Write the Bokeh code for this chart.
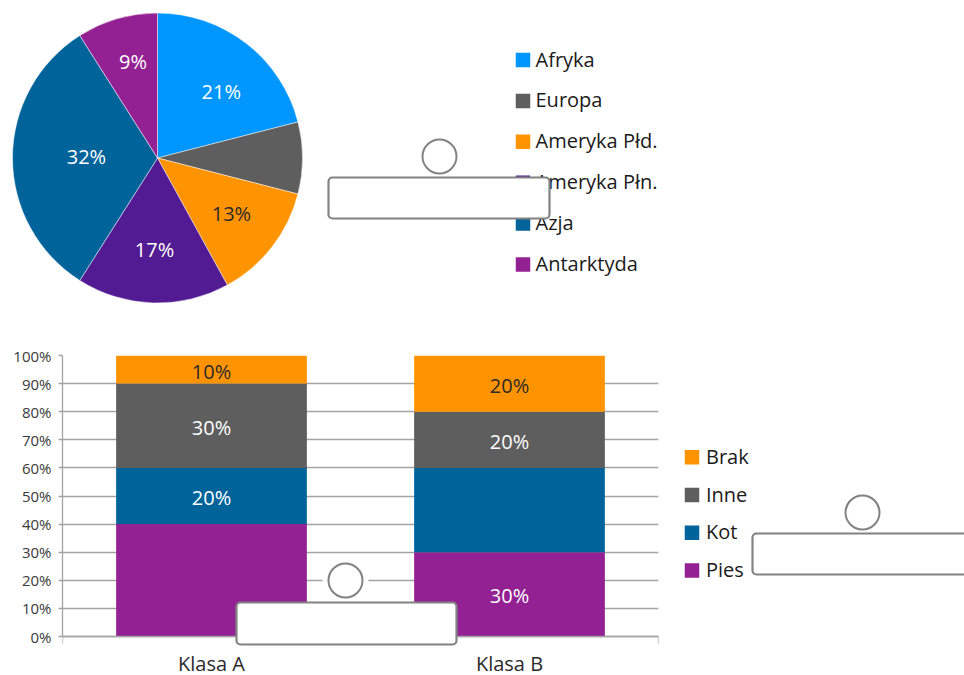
import math
from bokeh.plotting import figure
from bokeh.layouts import column, row
from bokeh.models import (Range1d, ColumnDataSource, BoxAnnotation,
                          LinearAxis, FixedTicker, Grid)
from bokeh.core.properties import value
from bokeh.embed import file_html
from bokeh.resources import INLINE

# ---------------- data ----------------
continents = ["Afryka", "Europa", "Ameryka Płd.", "Ameryka Płn.", "Azja", "Antarktyda"]
continent_share = [21, 8, 13, 17, 32, 9]
continent_colors = ["#0096FF", "#5E5E5E", "#FF9300", "#531B93", "#00639A", "#942193"]
continent_label_shown = [True, False, True, True, True, True]

classes = ["Klasa A", "Klasa B"]
pets = ["Pies", "Kot", "Inne", "Brak"]          # stacked bottom -> top
pies = [40, 30]
kot = [20, 30]
inne = [30, 20]
brak = [10, 20]
pet_colors = ["#942193", "#00639A", "#5E5E5E", "#FF9300"]
hidden_bar_labels = [("Klasa A", "Pies"), ("Klasa B", "Kot")]

y_ticks = [0, 10, 20, 30, 40, 50, 60, 70, 80, 90, 100]
y_tick_labels = ["0%", "10%", "20%", "30%", "40%", "50%", "60%", "70%", "80%", "90%", "100%"]

# ---------------- style / layout ----------------
FONT = "Open Sans"
GRID = "#a3a3a3"
DARK = "#2b2b2b"
LEGEND_TEXT = "#1a1a1a"
OUTLINE = "#828282"

W, H = 964, 675
TOP_H = 338
PIE_CX, PIE_CY, PIE_R = 157, 157.5, 145
LABEL_RF = [0.63, 0.6, 0.645, 0.645, 0.49, 0.676]
LABEL_DA = [6.5, 0, 0, 0, 0, 1.7]

# bar-chart frame in page pixels
BAR_W = 670
FR_L, FR_R, FR_T, FR_ZERO = 62, 658, 355, 636


def luminance(hexcol):
    h = hexcol.lstrip("#")
    vals = [int(h[i:i + 2], 16) / 255 for i in (0, 2, 4)]
    lin = [v / 12.92 if v <= 0.03928 else ((v + 0.055) / 1.055) ** 2.4 for v in vals]
    return 0.2126 * lin[0] + 0.7152 * lin[1] + 0.0722 * lin[2]


def text_col(fill):
    return DARK if luminance(fill) > 0.35 else "#ffffff"


def base_fig(w, h, xr, yr, top_border=0):
    f = figure(width=w, height=h, x_range=xr, y_range=yr, output_backend="svg",
               toolbar_location=None, min_border=0, min_border_top=top_border,
               x_axis_location=None, y_axis_location=None, outline_line_color=None)
    f.grid.visible = False
    return f


def slot_box(**kw):
    return BoxAnnotation(border_radius=4, fill_color="white", fill_alpha=1,
                         line_color=OUTLINE, line_alpha=1, line_width=2.2, **kw)


# ---------------- top: pie ----------------
top = base_fig(W, TOP_H, Range1d(0, W), Range1d(-TOP_H, 0))

total = sum(continent_share)
cum = [0]
for v in continent_share:
    cum.append(cum[-1] + v)
start = [math.pi / 2 - 2 * math.pi * c / total for c in cum[:-1]]
end = [math.pi / 2 - 2 * math.pi * c / total for c in cum[1:]]
pie_src = ColumnDataSource(dict(name=continents, value=continent_share, start=start,
                                end=end, color=continent_colors))
top.wedge(x=PIE_CX, y=-PIE_CY, radius=PIE_R, start_angle="start", end_angle="end",
          direction="clock", fill_color="color", line_color="white", line_width=0.8,
          line_alpha=0.6, source=pie_src)

lx, ly, lt, lc = [], [], [], []
for i, v in enumerate(continent_share):
    mid = math.radians((cum[i] + v / 2) / total * 360 + LABEL_DA[i])
    r = PIE_R * LABEL_RF[i]
    lx.append(PIE_CX + r * math.sin(mid))
    ly.append(-PIE_CY + r * math.cos(mid))
    lt.append(f"{v}%" if continent_label_shown[i] else "")
    lc.append(text_col(continent_colors[i]))
top.text(x=lx, y=ly, text=lt, text_color=lc, text_font=value(FONT),
         text_font_size="20px", text_align="center", text_baseline="middle", y_offset=-1.5)

# legend for the pie
LEG1_X, LEG1_Y0, LEG1_DY, LEG1_TX = 522.5, 59.5, 40.9, 535
leg1_y = [-(LEG1_Y0 + i * LEG1_DY) for i in range(len(continents))]
top.rect(x=[LEG1_X] * len(continents), y=leg1_y, width=14.5, height=14.5,
         fill_color=continent_colors, line_color=None)
top.text(x=[LEG1_TX] * len(continents), y=leg1_y, text=continents, text_color=LEGEND_TEXT,
         text_font=value(FONT), text_font_size="20px", text_baseline="middle", y_offset=-1)

# answer slot (top)
top.scatter(x=[439], y=[-156], size=34, marker="circle", fill_color="white",
            line_color=OUTLINE, line_width=2)
top.add_layout(slot_box(left=328, right=549, top=-177, bottom=-218))

# ---------------- bottom-left: stacked bars ----------------
n = len(classes)
bot_h = H - TOP_H
px_per_unit = (FR_ZERO - FR_T) / 100.0
y_bottom = -(H - FR_ZERO) / px_per_unit


def bx(px):
    return (px - FR_L) / (FR_R - FR_L) * n


def by(py):
    return (FR_ZERO - py) / px_per_unit


bar = figure(width=BAR_W, height=bot_h, x_range=Range1d(0, n), y_range=Range1d(y_bottom, 100),
             output_backend="svg", toolbar_location=None, min_border_left=FR_L,
             min_border_right=BAR_W - FR_R, min_border_top=FR_T - TOP_H, min_border_bottom=0,
             x_axis_location=None, y_axis_location=None, outline_line_color=None)
bar.grid.visible = False

yaxis = LinearAxis(ticker=FixedTicker(ticks=y_ticks), bounds=(0, 100),
                   major_label_overrides={t: l for t, l in zip(y_ticks, y_tick_labels)},
                   major_label_text_font=FONT, major_label_text_font_size="15px",
                   major_label_text_color="#3a3a3a", major_label_standoff=7,
                   major_tick_out=4, major_tick_in=0, minor_tick_line_color=None,
                   major_tick_line_color=GRID, axis_line_color=GRID, axis_line_width=1.3,
                   major_tick_line_width=1.3)
bar.add_layout(yaxis, "left")

xs = [i + 0.5 for i in range(n)]
xaxis = LinearAxis(fixed_location=0,
                   ticker=FixedTicker(ticks=xs, minor_ticks=list(range(n + 1))),
                   major_label_overrides={x: c for x, c in zip(xs, classes)},
                   major_label_text_font=FONT, major_label_text_font_size="20px",
                   major_label_text_color=DARK, major_label_standoff=6,
                   major_tick_out=0, major_tick_in=0, major_tick_line_color=None,
                   minor_tick_out=7, minor_tick_in=0, minor_tick_line_color=GRID,
                   minor_tick_line_width=1.3, axis_line_color=GRID, axis_line_width=1.3)
bar.add_layout(xaxis, "below")

bar.add_layout(Grid(dimension=1, ticker=FixedTicker(ticks=y_ticks), grid_line_color=GRID,
                    grid_line_width=1.3))

series = {"Pies": pies, "Kot": kot, "Inne": inne, "Brak": brak}
bar_src = ColumnDataSource(dict(x=xs, cls=classes, **series))
bar.vbar_stack(pets, x="x", width=0.64, fill_color=pet_colors, line_color=None,
               source=bar_src)

tx, ty, tt, tc = [], [], [], []
for i, cls in enumerate(classes):
    base = 0
    for j, pet in enumerate(pets):
        v = series[pet][i]
        if (cls, pet) not in hidden_bar_labels:
            tx.append(xs[i])
            ty.append(base + v / 2)
            tt.append(f"{v}%")
            tc.append(text_col(pet_colors[j]))
        base += v
bar.text(x=tx, y=ty, text=tt, text_color=tc, text_font=value(FONT), text_font_size="20px",
         text_align="center", text_baseline="middle", y_offset=1.5)

# answer slot (middle)
bar.scatter(x=[bx(345)], y=[by(580)], size=46, marker="circle", fill_color="white",
            line_color=None)
bar.scatter(x=[bx(345)], y=[by(580)], size=34, marker="circle", fill_color="white",
            line_color=OUTLINE, line_width=2)
bar.add_layout(slot_box(left=bx(236), right=bx(456), top=by(602), bottom=by(644)))

# ---------------- bottom-right: legend + answer slot ----------------
# frames in a row are aligned, so this frame starts at the bar frame's top edge
side = base_fig(W - BAR_W, bot_h, Range1d(BAR_W, W), Range1d(-H, -FR_T),
                top_border=FR_T - TOP_H)
LEG2_X, LEG2_Y0, LEG2_DY, LEG2_TX = 691.5, 456.7, 37.8, 705.5
order = list(reversed(range(len(pets))))
leg2_y = [-(LEG2_Y0 + k * LEG2_DY) for k in range(len(pets))]
side.rect(x=[LEG2_X] * len(pets), y=leg2_y, width=14.5, height=14.5,
          fill_color=[pet_colors[j] for j in order], line_color=None)
side.text(x=[LEG2_TX] * len(pets), y=leg2_y, text=[pets[j] for j in order],
          text_color=LEGEND_TEXT, text_font=value(FONT), text_font_size="20px",
          text_baseline="middle", y_offset=-1)

side.scatter(x=[862], y=[-512], size=34, marker="circle", fill_color="white",
             line_color=OUTLINE, line_width=2)
side.add_layout(slot_box(left=752, right=1010, top=-533, bottom=-574))

layout = column(top, row(bar, side))
open("out.html", "w").write(file_html(layout, INLINE))
